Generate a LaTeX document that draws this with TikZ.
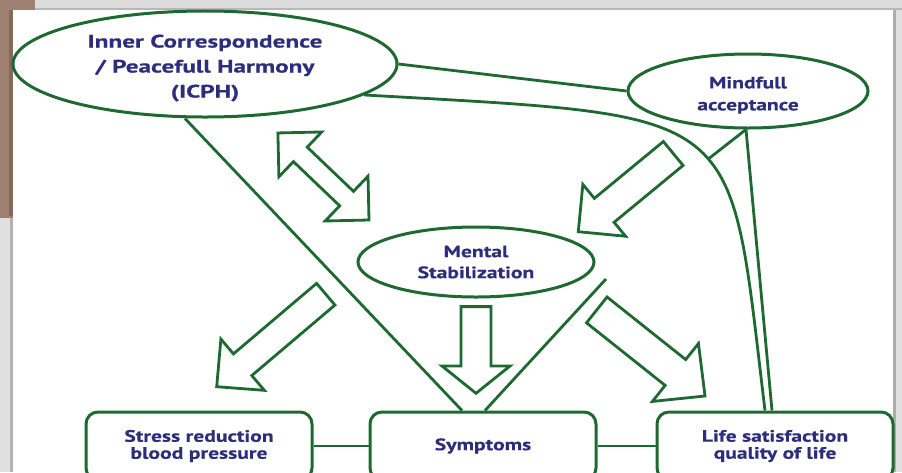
\documentclass[tikz,border=0pt]{standalone}
\usepackage{fontspec}
\setmainfont{PT Sans}[FakeStretch=1.31,BoldFeatures={FakeBold=0.4}]
\newfontfamily\icphfont{PT Sans}[FakeStretch=1.4,BoldFeatures={FakeBold=0.4}]
\usetikzlibrary{shapes.geometric,calc}
\definecolor{dgreen}{RGB}{30,105,50}
\definecolor{tblue}{RGB}{46,45,124}
\definecolor{brownbg}{RGB}{158,128,112}
\definecolor{brownedge}{RGB}{135,105,90}
\newcommand\barr[6]{\draw[barrow,shift={(#1)},rotate=#2] (0,0) -- (-#5,#4) -- (-#5,#3) -- (-#6,#3) -- (-#6,-#3) -- (-#5,-#3) -- (-#5,-#4) -- cycle;}
\newcommand\dbarr[6]{\draw[barrow,shift={(#1)},rotate=#2] (0,0) -- (-#5,#4) -- (-#5,#3) -- ({-(#6-#5)},#3) -- ({-(#6-#5)},#4) -- (-#6,0) -- ({-(#6-#5)},-#4) -- ({-(#6-#5)},-#3) -- (-#5,-#3) -- (-#5,-#4) -- cycle;}
\begin{document}
\begin{tikzpicture}[x=1pt,y=-1pt,
  every node/.style={font=\bfseries\fontsize{16.5}{21}\selectfont, text=tblue, align=center},
  ell/.style={draw=dgreen, line width=3pt, ellipse, inner sep=0pt},
  rbox/.style={draw=dgreen, line width=3pt, rounded corners=12pt, inner sep=0pt},
  conn/.style={draw=dgreen, line width=2.8pt},
  barrow/.style={draw=dgreen, line width=2.8pt, fill=white, line join=miter}]
\useasboundingbox (0,0) rectangle (902,472);
\clip (0,0) rectangle (902,472);
% background
\fill[black!20] (0,0) rectangle (902,472);
\fill[black!14] (0,0) rectangle (902,8);
\fill[black!28] (0,8) rectangle (902,10);
\fill[black!12] (0,218) rectangle (10,472);
\fill[black!30] (10,218) rectangle (12.7,472);
\fill[black!12] (896,10) rectangle (902,472);
\fill[black!32] (893,10) rectangle (896,472);
\fill[brownbg] (0,0) rectangle (35,10);
\fill[brownbg] (0,0) rectangle (12.7,218);
\fill[brownedge] (9,10) rectangle (12.7,216);
\fill[white] (12.7,10) rectangle (893,472);

% nodes
\node[ell, minimum width=384pt, minimum height=104pt, font=\icphfont\bfseries\fontsize{18}{25}\selectfont] (icph) at (205,64) {\rule{0pt}{21pt}Inner Correspondence\\/ Peacefull Harmony\\(ICPH)};
\node[ell, minimum width=240pt, minimum height=74pt, font=\bfseries\fontsize{16.5}{22}\selectfont] (mind) at (748,91) {\rule{0pt}{20pt}Mindfull\\acceptance};
\node[ell, minimum width=236pt, minimum height=70pt, font=\bfseries\fontsize{16.5}{21}\selectfont] (ment) at (476,262) {Mental\\Stabilization};
\node[rbox, minimum width=226pt, minimum height=68pt, font=\bfseries\fontsize{16.5}{17}\selectfont] (stress) at (199,446) {Stress reduction\\blood pressure};
\node[rbox, minimum width=226pt, minimum height=68pt] (symp) at (483,446) {Symptoms};
\node[rbox, minimum width=236pt, minimum height=68pt, font=\bfseries\fontsize{16.5}{17}\selectfont] (life) at (775,446) {Life satisfaction\\quality of life};

% connectors
\draw[conn] (stress.east) -- (symp.west);
\draw[conn] (symp.east) -- (life.west);
\draw[conn] (icph.east) -- (mind.west);
\draw[conn] (icph.-11) .. controls (750,117) and (728,105) .. ([xshift=-10pt]life.north) coordinate[pos=0.55] (join);
\draw[conn] ([xshift=-2pt]mind.south) -- (join);
\draw[conn] ([xshift=-2pt]mind.south) -- ([xshift=-3pt]life.north);
\draw[conn] ([xshift=-20pt]icph.south) -- ([xshift=-21pt]symp.north);
\coordinate (sfree) at (606,279);
\draw[conn] ([xshift=2pt]symp.north) -- (sfree);

% block arrows
\dbarr{369,220}{-43.7}{10}{31}{31}{126}
\barr{578.3,231.7}{-140.5}{15.5}{33.6}{33.6}{123}
\barr{216.7,386.7}{-139.7}{14.2}{33.6}{34}{143}
\barr{476,393.3}{-90}{15}{34}{27.3}{86.7}
\barr{705,396}{-38.5}{16.5}{37}{37.8}{138.3}
\end{tikzpicture}
\end{document}
